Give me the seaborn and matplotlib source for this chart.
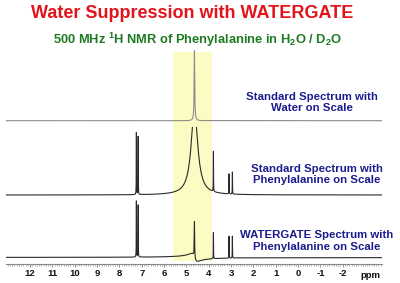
import numpy as np
import pandas as pd
import matplotlib
matplotlib.use("Agg")
import matplotlib.pyplot as plt
from matplotlib.ticker import MultipleLocator
import seaborn as sns

# ---------------- data ----------------
peak_ppm = [7.24, 7.16, 4.64, 3.79, 3.09, 2.94]          # Ar-H, Ar-H, H2O, alpha-H, beta-H, beta-H
# half-widths (ppm)
width_std_water = [0.005, 0.005, 0.016, 0.005, 0.005, 0.005]
width_std_phe = [0.005, 0.005, 0.18, 0.005, 0.005, 0.005]
width_wg = [0.005, 0.005, 0.010, 0.005, 0.005, 0.005]
# peak heights (display units)
height_std_water = [0, 0, 70, 0, 0, 0]
height_std_phe = [62, 58, 85, 40, 20, 22]
height_wg = [56, 52, 36, 26, 22, 22]
# residual dispersive water signal in the WATERGATE spectrum
wg_disp_ppm = 4.64
wg_disp_amp = 8.0
wg_disp_width = 0.13
clip_std_phe = 68          # water is off scale in the middle spectrum

spectrum_names = ["Standard / water on scale", "Standard / Phe on scale", "WATERGATE"]
spectrum_offsets = [143.3, 69.0, 6.5]

tick_values = list(range(-2, 13))
tick_labels = [str(v) for v in tick_values]

title = "Water Suppression with WATERGATE"
subtitle = r"500 MHz $^\mathbf{1}$H NMR of Phenylalanine in H$_\mathbf{2}$O / D$_\mathbf{2}$O"
labels = ["Standard Spectrum with\nWater on Scale",
          "Standard Spectrum with\nPhenylalanine on Scale",
          "WATERGATE Spectrum with\nPhenylalanine on Scale"]

# ---------------- build spectra ----------------
ppm = np.arange(-3.76, 13.08, 0.001)


def lorentz_sum(heights, widths):
    y = np.zeros_like(ppm)
    for p, h, w in zip(peak_ppm, heights, widths):
        if h:
            y += h / (1 + ((ppm - p) / w) ** 2)
    return y


y_top = lorentz_sum(height_std_water, width_std_water)
y_mid = lorentz_sum(height_std_phe, width_std_phe)
y_mid[y_mid > clip_std_phe] = np.nan
d = (ppm - wg_disp_ppm) / wg_disp_width
y_bot = lorentz_sum(height_wg, width_wg) + wg_disp_amp * d / (1 + d ** 2)

frames = []
for name, y, off in zip(spectrum_names, [y_top, y_mid, y_bot], spectrum_offsets):
    seg = np.cumsum(np.isnan(y))
    df = pd.DataFrame({"ppm": ppm, "y": y + off, "seg": seg, "spectrum": name})
    frames.append(df.dropna())
data = pd.concat(frames, ignore_index=True)

# ---------------- figure ----------------
sns.set_theme(style="white")
plt.rcParams["font.family"] = ["Liberation Sans", "DejaVu Sans"]
plt.rcParams["axes.unicode_minus"] = False
plt.rcParams["mathtext.fontset"] = "custom"
plt.rcParams["mathtext.rm"] = "Liberation Sans"
plt.rcParams["mathtext.bf"] = "Liberation Sans:bold"

W, H = 400, 283
fig = plt.figure(figsize=(W / 100, H / 100), dpi=100)
fig.patch.set_facecolor("white")
ax = fig.add_axes([6 / W, 19 / H, 376 / W, 264 / H])
ax.set_facecolor("none")

ax.axvspan(5.61, 3.86, ymin=3.5 / 264, ymax=212.3 / 264, color="#fdfbc4", zorder=0, lw=0)

colors = ["#8c8c8c", "#2a2a2a", "#2a2a2a"]
for name, c in zip(spectrum_names, colors):
    sns.lineplot(data=data[data.spectrum == name], x="ppm", y="y", units="seg",
                 estimator=None, sort=False, color=c, linewidth=0.8, ax=ax, zorder=2)

ax.set_xlim(13.08, -3.76)
ax.set_ylim(0, 264)
ax.set_xlabel("")
ax.set_ylabel("")
ax.set_yticks([])
for s in ["top", "left", "right"]:
    ax.spines[s].set_visible(False)
ax.spines["bottom"].set_color("#8a8a8a")
ax.spines["bottom"].set_linewidth(0.8)

ax.set_xticks(tick_values)
ax.set_xticklabels(tick_labels, fontweight="bold")
ax.xaxis.set_minor_locator(MultipleLocator(0.1))
ax.tick_params(axis="x", which="major", length=2.2, width=0.6, color="#808080",
               direction="out", pad=1.2, labelsize=6.8, labelcolor="#111111", bottom=True)
ax.tick_params(axis="x", which="minor", length=1.2, width=0.5, color="#9a9a9a",
               direction="out", bottom=True)

fig.text(370 / W, 1 - 275 / H, "ppm", ha="center", va="center", fontsize=6.8,
         fontweight="bold", color="#111111")

fig.text(192 / W, 1 - 14 / H, title, ha="center", va="center", fontsize=13,
         fontweight="bold", color="#e0141a")
fig.text(198 / W, 1 - 40 / H, subtitle, ha="center", va="center", fontsize=9.3,
         fontweight="bold", color="#1e7a22")

label_pos = [(312, 102.5), (316.5, 174.5), (316.5, 241)]
for (lx, ly), txt in zip(label_pos, labels):
    fig.text(lx / W, 1 - ly / H, txt, ha="center", va="center", fontsize=8.2,
             fontweight="bold", color="#1c1c8e", linespacing=1.15)

fig.savefig("out.png", dpi=100)
